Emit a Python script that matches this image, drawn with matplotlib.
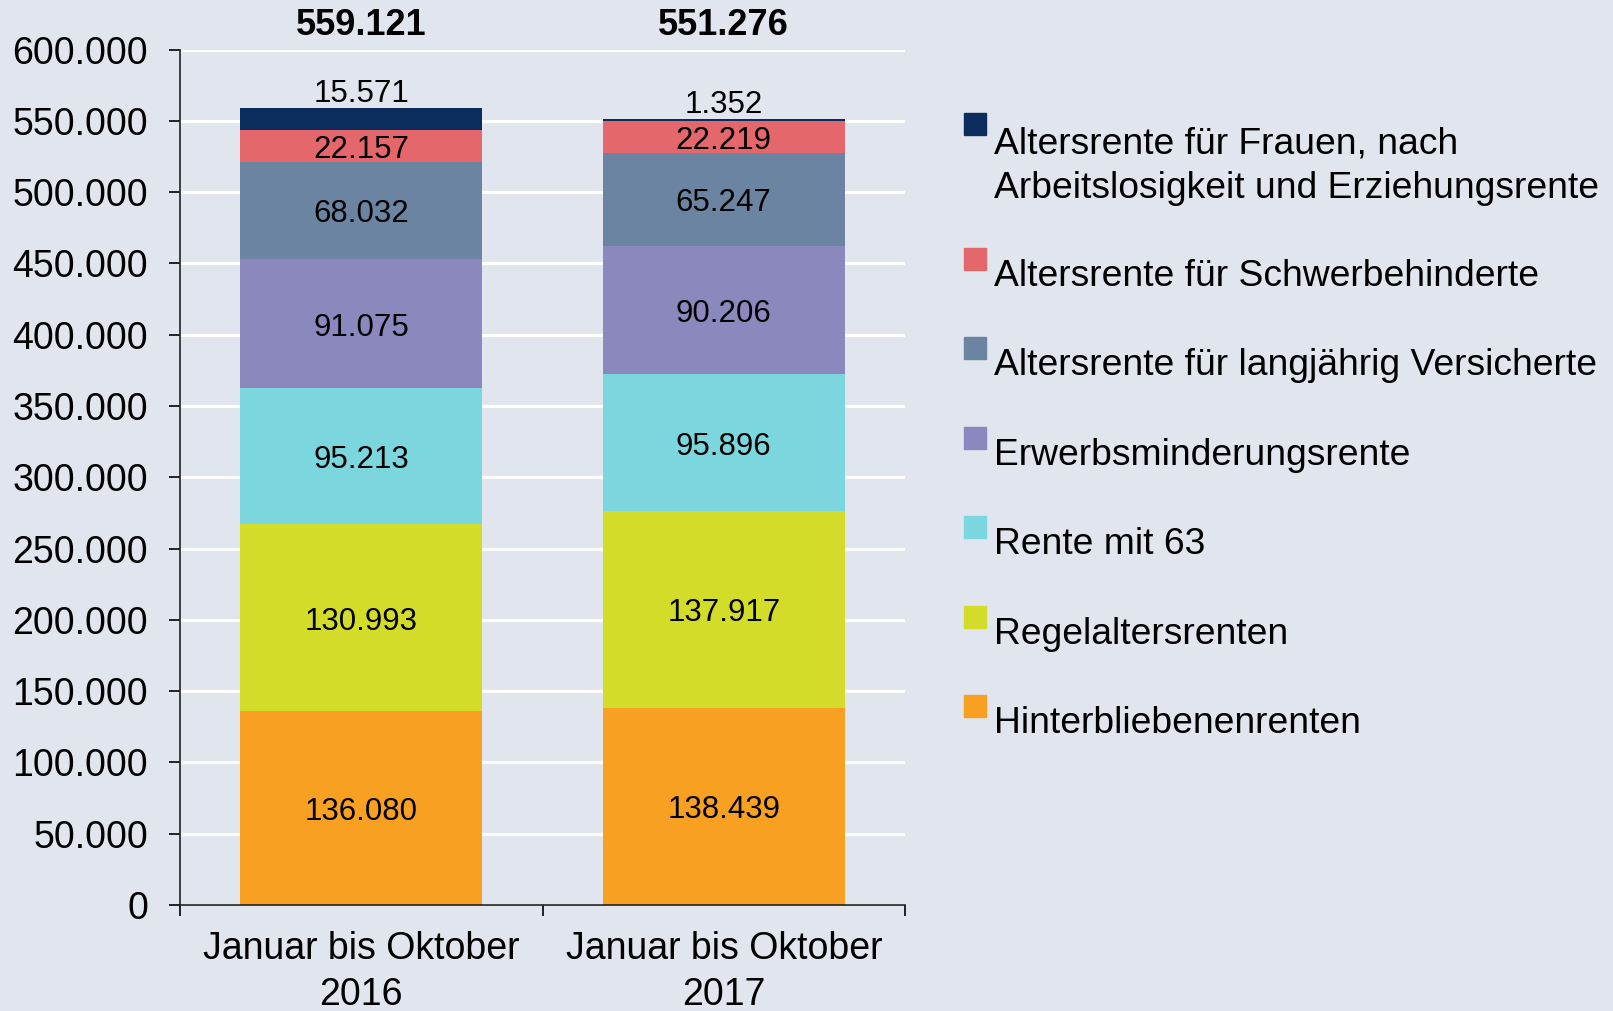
import matplotlib
matplotlib.use('Agg')
import matplotlib.pyplot as plt
from matplotlib.patches import Rectangle
import numpy as np

plt.rcParams['font.family'] = ['Liberation Sans', 'DejaVu Sans']

# data (bottom to top of stack)
periods = ['Januar bis Oktober\n2016', 'Januar bis Oktober\n2017']
series = ['Hinterbliebenenrenten', 'Regelaltersrenten', 'Rente mit 63',
          'Erwerbsminderungsrente', 'Altersrente für langjährig Versicherte',
          'Altersrente für Schwerbehinderte',
          'Altersrente für Frauen, nach\nArbeitslosigkeit und Erziehungsrente']
v2016 = [136080, 130993, 95213, 91075, 68032, 22157, 15571]
v2017 = [138439, 137917, 95896, 90206, 65247, 22219, 1352]
colors = ['#F7A021', '#D4DC2A', '#7CD6DD', '#8B88BE', '#6A84A2', '#E4676B', '#0A2D5E']
yticks = np.arange(0, 600001, 50000)

def de(n):  # german thousands separator
  return '{:,}'.format(int(n)).replace(',', '.')

W, H = 1613, 1011
bg = '#E1E5EE'
fig = plt.figure(figsize=(W/100, H/100), dpi=100, facecolor=bg)
ax = fig.add_axes([180/W, 1-905/H, 725/W, 855.5/H], facecolor=bg)
vals = np.array([v2016, v2017])
x = np.arange(len(periods))
bottom = np.zeros(len(periods))
for k in range(len(series)):
  ax.bar(x, vals[:, k], 0.668, bottom=bottom, color=colors[k], zorder=3, linewidth=0)
  for i in range(len(periods)):
    if k == len(series)-1:
      ax.annotate(de(vals[i, k]), (x[i], bottom[i]+vals[i, k]), xytext=(0, 10),
                  textcoords='offset points', ha='center', va='center', fontsize=22.5)
    else:
      ax.annotate(de(vals[i, k]), (x[i], bottom[i]+vals[i, k]/2), xytext=(0, -3),
                  textcoords='offset points', ha='center', va='center', fontsize=22.5, zorder=4)
  bottom += vals[:, k]
for i in range(len(periods)):
  ax.text(x[i], 617000, de(bottom[i]), ha='center', va='center', fontsize=26, fontweight='bold', clip_on=False)

ax.set_xlim(-0.5, 1.5)
ax.set_ylim(0, 600000)
ax.set_yticks(yticks)
ax.set_yticklabels([de(t) for t in yticks])
ax.set_xticks([-0.5, 0.5, 1.5], minor=False)
ax.set_xticklabels(['', '', ''])
ax.set_xticks(x, minor=True)
ax.set_xticklabels(periods, minor=True, fontsize=27, linespacing=1.36)
ax.tick_params(axis='x', which='minor', length=0, pad=19)
ax.tick_params(axis='x', which='major', length=8, width=1.2, direction='out')
ax.tick_params(axis='y', length=8, width=1.2, direction='out', labelsize=27, pad=15)
ax.grid(axis='y', color='white', linewidth=2.3, zorder=0)
ax.set_axisbelow(True)
for s in ('top', 'right'):
  ax.spines[s].set_visible(False)
for s in ('left', 'bottom'):
  ax.spines[s].set_color('#222222'); ax.spines[s].set_linewidth(1.2); ax.spines[s].set_zorder(5)

# legend, drawn by hand (top entry first)
mk_top = [113, 248, 337, 427, 516, 606, 695]
baselines = [153, 286, 375, 465, 554, 644, 733]
for j, k in enumerate(range(len(series)-1, -1, -1)):
  fig.patches.append(Rectangle((964/W, 1-(mk_top[j]+22)/H), 22/W, 22/H,
                               transform=fig.transFigure, color=colors[k], figure=fig))
  lines = series[k].split('\n')
  for n, line in enumerate(lines):
    fig.text(994/W, 1-(baselines[j]+45*n)/H, line, fontsize=26.8, va='baseline', ha='left')

fig.savefig('out.png', dpi=100, facecolor=bg)
